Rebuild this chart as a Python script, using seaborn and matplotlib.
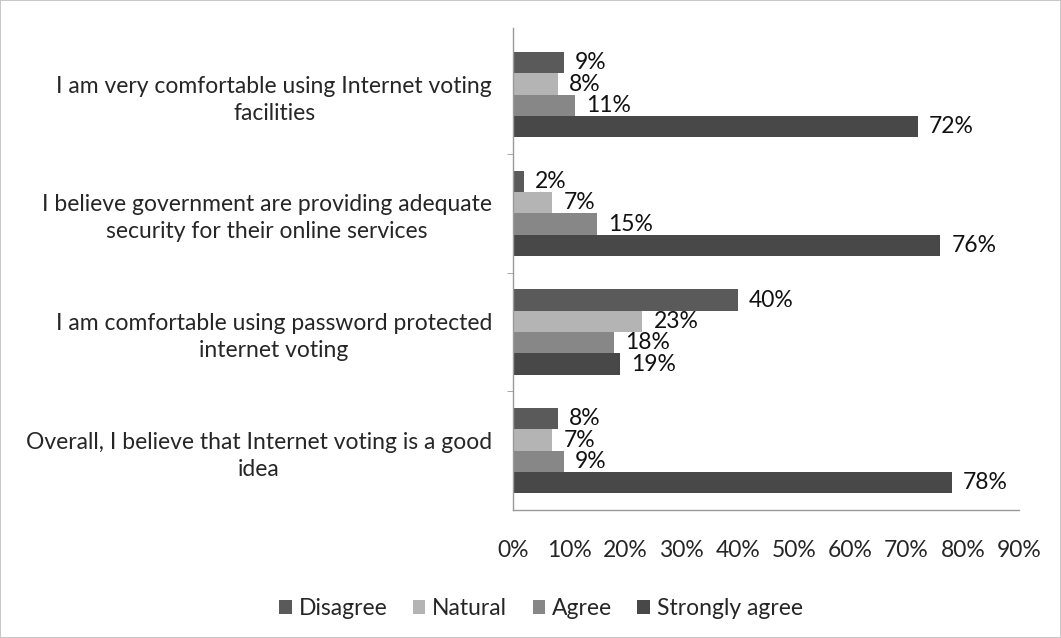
import pandas as pd
import seaborn as sns
import matplotlib.pyplot as plt

statements = [
    'I am very comfortable using Internet voting\nfacilities',
    'I believe government are providing adequate\nsecurity for their online services',
    'I am comfortable using password protected\ninternet voting',
    'Overall, I believe that Internet voting is a good\nidea',
]
responses = ['Disagree', 'Natural', 'Agree', 'Strongly agree']
disagree = [9, 2, 40, 8]
natural = [8, 7, 23, 7]
agree = [11, 15, 18, 9]
strongly_agree = [72, 76, 19, 78]
xticks = [0, 10, 20, 30, 40, 50, 60, 70, 80, 90]

rows = []
for name, vals in zip(responses, [disagree, natural, agree, strongly_agree]):
    for s, v in zip(statements, vals):
        rows.append({'statement': s, 'response': name, 'pct': v})
df = pd.DataFrame(rows)

sns.set_style('white')
plt.rcParams['font.family'] = ['Lato', 'DejaVu Sans']
fs = 16.5

fig = plt.figure(figsize=(10.61, 6.38), dpi=100, linewidth=1.2, edgecolor='#c8c8c8')
ax = fig.add_axes([0.4835, 0.2006, 0.4769, 0.755])

palette = ['#5a5a5a', '#b4b4b4', '#878787', '#484848']
sns.barplot(data=df, y='statement', x='pct', hue='response', order=statements,
            hue_order=responses, palette=palette, orient='h', width=0.72,
            saturation=1, linewidth=0, ax=ax, legend=True)

for cont in ax.containers:
    ax.bar_label(cont, labels=[f'{int(v)}%' for v in cont.datavalues],
                 padding=8, fontsize=fs, color='#111111')

ax.set_xlim(0, 90)
ax.set_ylim(3.5, -0.56)
ax.set_xticks(xticks)
ax.set_xticklabels([f'{t}%' for t in xticks], fontsize=fs)
ax.set_xlabel('')
ax.set_ylabel('')
ax.tick_params(axis='y', labelsize=fs, length=0, pad=15)
ax.tick_params(axis='x', direction='inout', length=7, color='#9a9a9a', pad=18)
for t in ax.get_yticklabels():
    t.set_multialignment('center')
    t.set_linespacing(1.35)
ax.set_yticks([0.5, 1.5, 2.5], minor=True)
ax.tick_params(axis='y', which='minor', length=4, color='#9a9a9a', left=True)

for side in ['top', 'right']:
    ax.spines[side].set_visible(False)
for side in ['left', 'bottom']:
    ax.spines[side].set_color('#9a9a9a')
    ax.spines[side].set_linewidth(1)

leg = ax.legend(loc='center', ncol=4, frameon=False, fontsize=fs,
                handlelength=0.55, handleheight=0.55, handletextpad=0.3,
                columnspacing=1.1)
leg.set_bbox_to_anchor((0.51, 0.046), transform=fig.transFigure)

fig.savefig('out.png', dpi=100, edgecolor=fig.get_edgecolor())
